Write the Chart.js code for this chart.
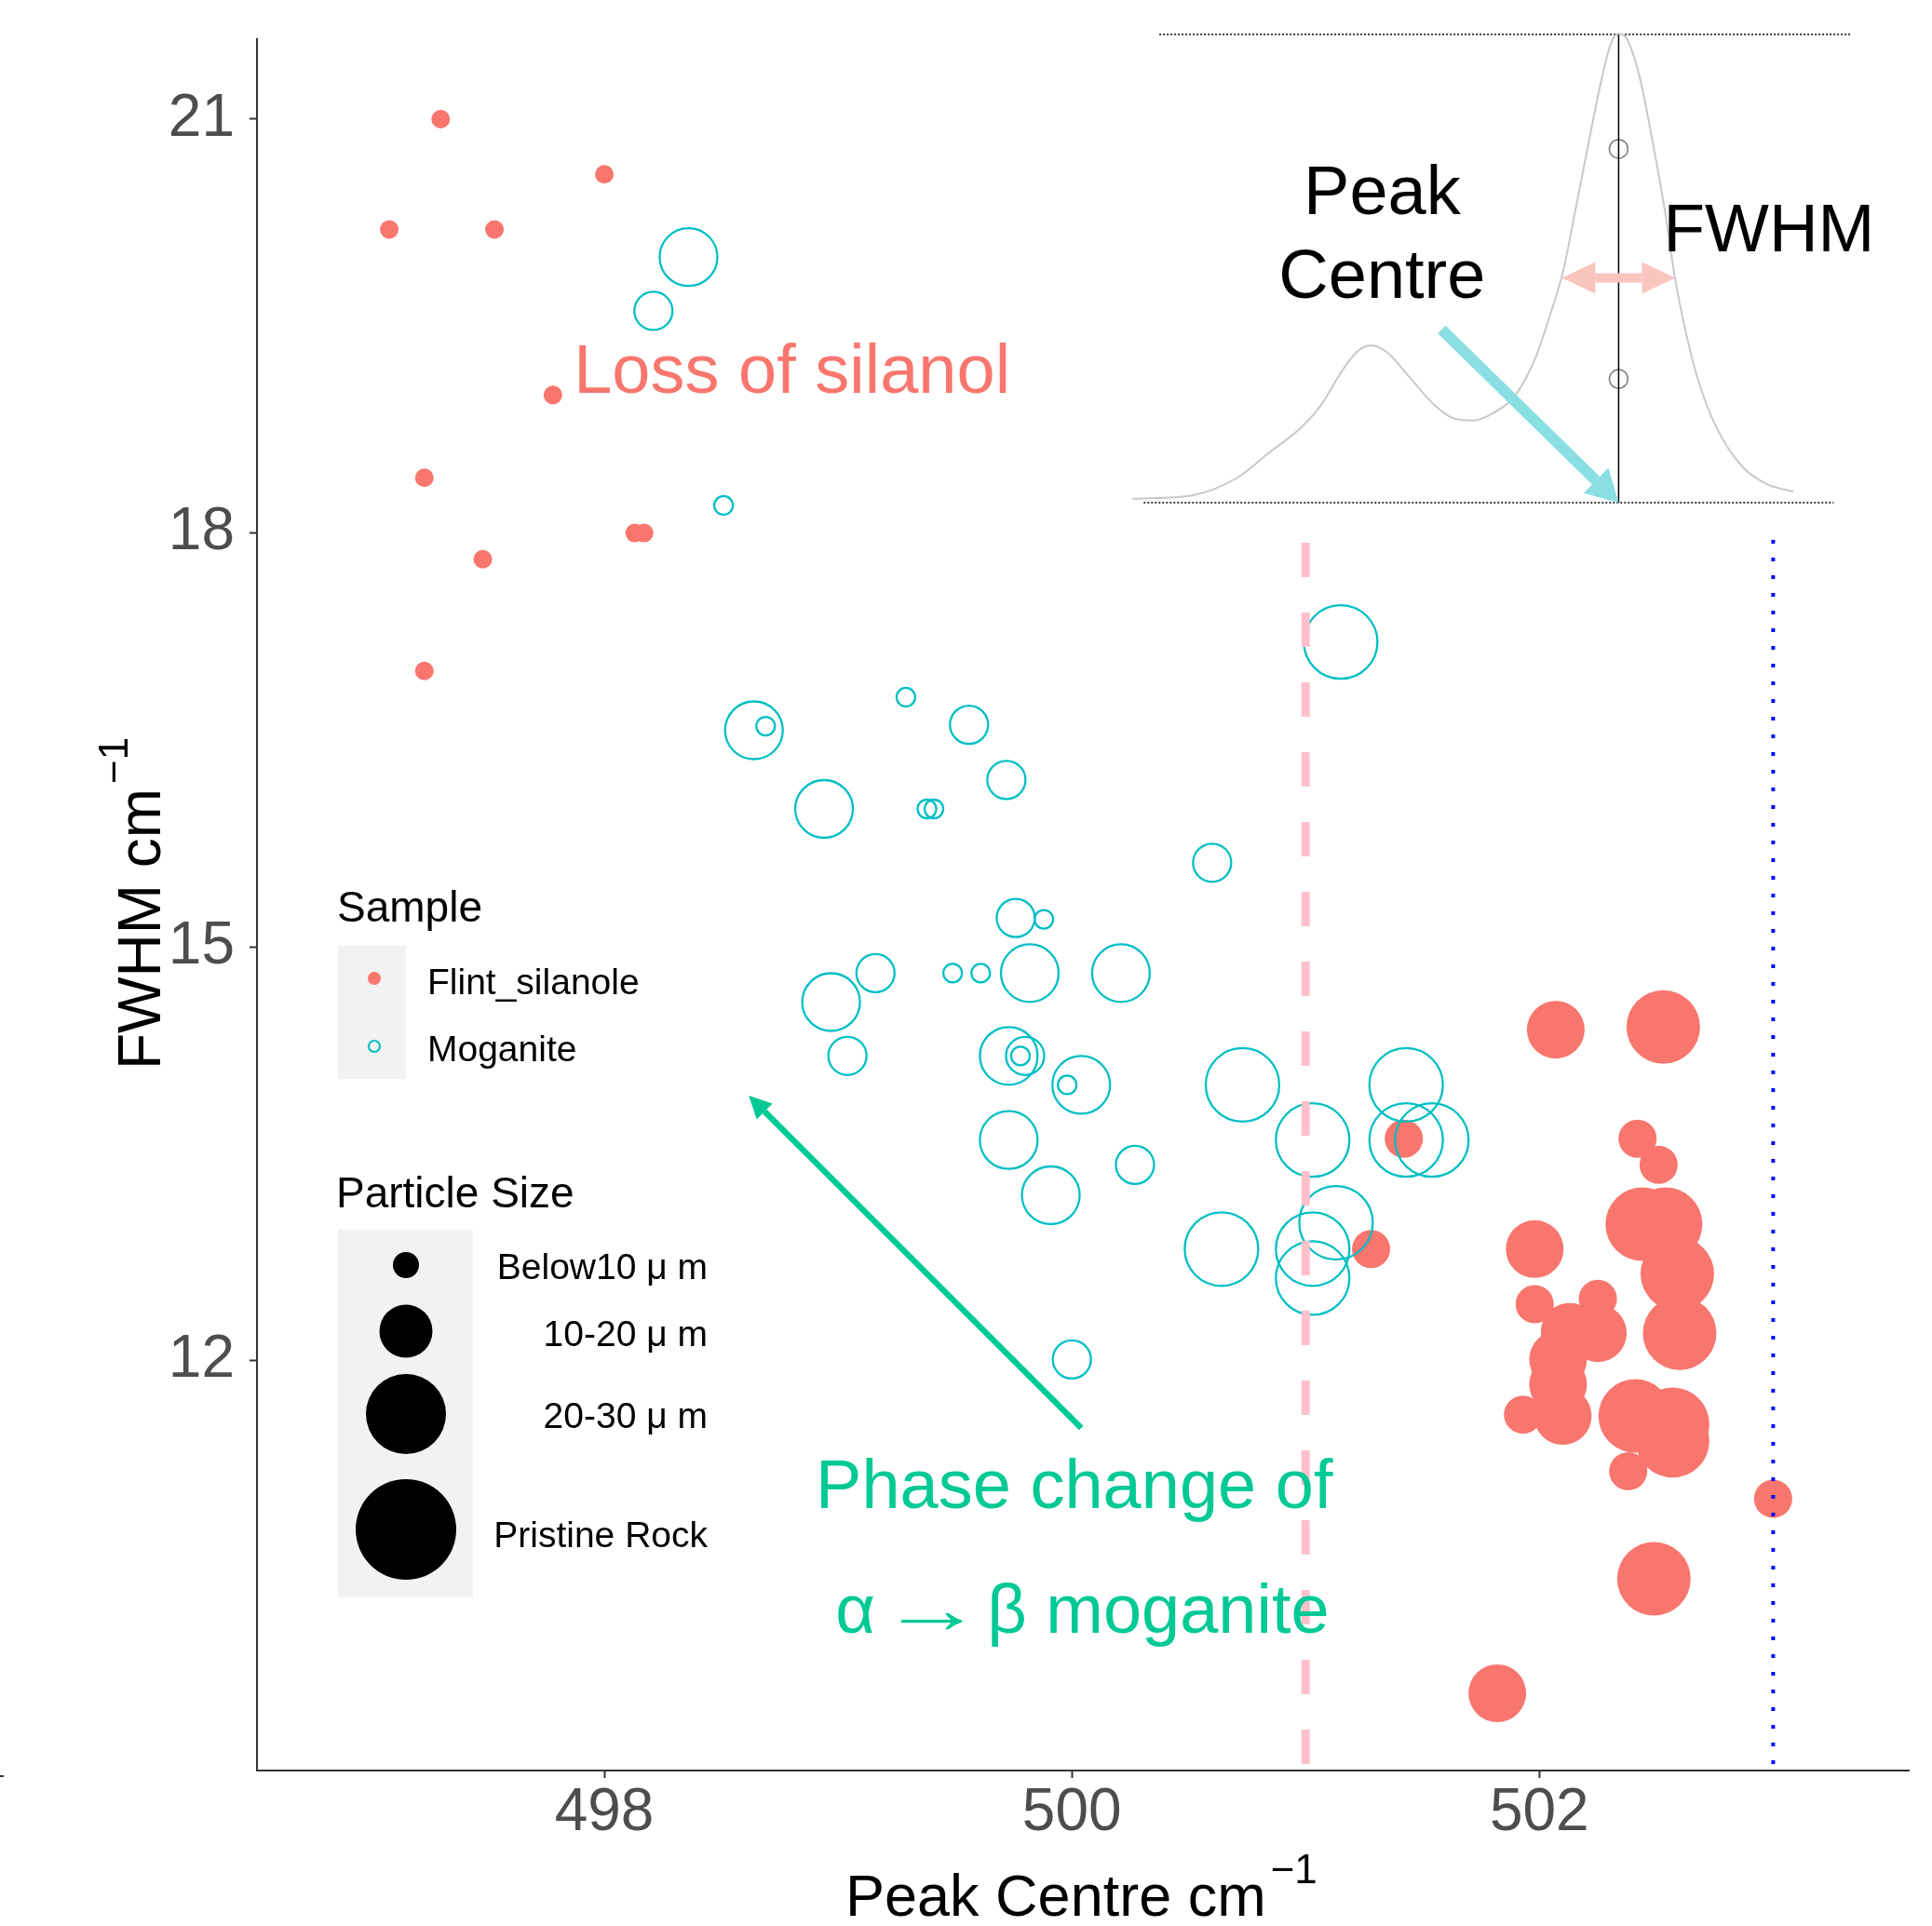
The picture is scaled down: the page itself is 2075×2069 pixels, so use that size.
<!DOCTYPE html>
<html><head><meta charset="utf-8">
<script src="https://cdn.jsdelivr.net/npm/chart.js@4.4.1/dist/chart.umd.min.js"></script>
<style>html,body{margin:0;padding:0;background:#fff;}canvas{display:block;}</style>
</head><body>
<canvas id="c" width="2075" height="2069"></canvas>
<script>
// ---------- data ----------
const xTicks = [498, 500, 502];
const yTicks = [12, 15, 18, 21];
const sampleNames = ['Flint_silanole', 'Moganite'];
const sizeNames = ['Below10 μ m', '10-20 μ m', '20-30 μ m', 'Pristine Rock'];

const flintX = [497.30, 498.00, 497.08, 497.53, 497.78, 497.23, 497.48, 498.13, 498.17, 497.23,
  501.42, 501.28, 502.07, 502.53, 502.42, 502.51, 502.44, 502.54, 502.59, 502.60,
  501.98, 501.98, 502.25, 502.25, 502.13, 502.08, 502.08, 502.10, 501.93, 502.41,
  502.57, 502.57, 502.38, 503.00, 502.49, 501.82];
const flintY = [21.00, 20.60, 20.20, 20.20, 19.00, 18.40, 17.81, 18.00, 18.00, 17.00,
  13.61, 12.81, 14.40, 14.42, 13.61, 13.42, 12.99, 12.99, 12.63, 12.20,
  12.81, 12.41, 12.45, 12.20, 12.21, 12.01, 11.83, 11.60, 11.61, 11.60,
  11.54, 11.42, 11.20, 11.00, 10.42, 9.59];
const flintSize = [1,1,1,1,1,1,1,1,1,1, 2,2,3,4,2,2,4,4,4,4, 3,2,2,3,3,3,3,3,2,4, 4,4,2,2,4,3];

const mogX = [498.36, 498.21, 498.51, 498.64, 498.69, 499.29, 498.94, 499.38, 499.41, 499.56,
  499.72, 500.60, 499.76, 499.88, 499.16, 498.97, 499.04, 499.49, 499.61, 499.82,
  500.21, 499.73, 499.80, 499.78, 500.04, 499.98, 499.73, 500.27, 499.91, 500.00,
  501.15, 500.73, 501.03, 501.43, 501.43, 501.54, 501.13, 501.03, 501.03, 500.64];
const mogY = [20.00, 19.61, 18.20, 16.57, 16.60, 16.81, 16.00, 16.00, 16.00, 16.61,
  16.21, 15.61, 15.21, 15.20, 14.81, 14.60, 14.21, 14.81, 14.81, 14.81,
  14.81, 14.21, 14.21, 14.21, 14.00, 14.00, 13.60, 13.42, 13.20, 12.01,
  17.21, 14.00, 13.60, 14.00, 13.60, 13.60, 13.00, 12.81, 12.60, 12.81];
const mogSize = [3,2,1,3,1,1,3,1,1,2, 2,2,2,1,2,3,2,1,1,3, 3,3,2,1,3,1,3,2,3,2, 4,4,4,4,4,4,4,4,4,4];

// inset schematic spectrum (read in axis units)
const insetX = [500.259, 500.518, 500.709, 500.845, 500.982, 501.064, 501.147, 501.215, 501.278, 501.351,
  501.446, 501.556, 501.637, 501.720, 501.801, 501.896, 501.980, 502.048, 502.102, 502.157,
  502.211, 502.267, 502.307, 502.338, 502.375, 502.430, 502.485, 502.539, 502.580, 502.622,
  502.676, 502.757, 502.867, 502.976, 503.086];
const insetY = [18.248, 18.274, 18.402, 18.584, 18.767, 18.922, 19.151, 19.306, 19.360, 19.306,
  19.126, 18.920, 18.829, 18.816, 18.868, 18.997, 19.256, 19.591, 19.901, 20.366,
  20.831, 21.297, 21.553, 21.618, 21.580, 21.297, 20.831, 20.314, 19.850, 19.489,
  19.126, 18.767, 18.483, 18.352, 18.301];
const insetTopLineX = [500.374, 503.331];
const insetTopLineY = [21.614, 21.614];
const insetBaseLineX = [500.307, 503.259];
const insetBaseLineY = [18.22, 18.22];
const insetCentreX = [502.339, 502.339];
const insetCentreY = [21.614, 18.22];
const insetMarkX = [502.339, 502.339];
const insetMarkY = [20.784, 19.117];

const refLineDashedX = [501, 501];
const refLineDashedY = [17.93, 9.03];
const refLineDottedX = [503, 503];
const refLineDottedY = [17.95, 9.03];

// ---------- style ----------
const FF = '"Liberation Sans", Arial, Helvetica, sans-serif';
const RED = '#F8766D', CYAN = '#00BFC4', GREEN = '#00C996';
const radii = [10, 20.5, 31, 39.5];
const pts = (xs, ys) => xs.map((x, i) => ({x: x, y: ys[i]}));

Chart.defaults.font.family = FF;

const notes = [
  {text: 'Loss of silanol', x: 497.869, y: 19.016, align: 'left', color: RED, size: 74},
  {text: 'Peak', x: 501.327, y: 20.314, align: 'center', color: '#000', size: 74},
  {text: 'Centre', x: 501.327, y: 19.707, align: 'center', color: '#000', size: 74},
  {text: 'FWHM', x: 502.530, y: 20.043, align: 'left', color: '#000', size: 73},
  {text: 'Phase change of', x: 498.904, y: 10.933, align: 'left', color: GREEN, size: 74}
];
// second green line, drawn in pieces so the arrow has the reference's length
const phaseLine = {parts: ['α', '→', 'β moganite'], offsets: [0, 48, 163], stretch: [1, 1.5, 1],
  x: 498.988, y: 10.028, color: GREEN, size: 74};

const arrows = [
  {x1: 501.582, y1: 19.475, x2: 502.339, y2: 18.22, w: 12, hl: 34, hw: 19, color: '#8ADFE3', both: false},
  {x1: 500.040, y1: 11.513, x2: 498.618, y2: 13.922, w: 6.5, hl: 24, hw: 12, color: GREEN, both: false},
  {x1: 502.096, y1: 19.85, x2: 502.582, y2: 19.85, w: 10, hl: 36, hw: 17, color: '#FBC5BF', both: true}
];

function drawArrow(ctx, x1, y1, x2, y2, w, hl, hw, color, both) {
  const dx = x2 - x1, dy = y2 - y1, L = Math.hypot(dx, dy);
  const ux = dx / L, uy = dy / L, nx = -uy, ny = ux;
  ctx.fillStyle = color;
  const s = both ? hl : 0;
  const sx = x1 + ux * s, sy = y1 + uy * s, ex = x2 - ux * hl, ey = y2 - uy * hl;
  ctx.beginPath();
  ctx.moveTo(sx + nx * w / 2, sy + ny * w / 2);
  ctx.lineTo(ex + nx * w / 2, ey + ny * w / 2);
  ctx.lineTo(ex - nx * w / 2, ey - ny * w / 2);
  ctx.lineTo(sx - nx * w / 2, sy - ny * w / 2);
  ctx.closePath(); ctx.fill();
  ctx.beginPath();
  ctx.moveTo(x2, y2);
  ctx.lineTo(ex + nx * hw, ey + ny * hw);
  ctx.lineTo(ex - nx * hw, ey - ny * hw);
  ctx.closePath(); ctx.fill();
  if (both) {
    ctx.beginPath();
    ctx.moveTo(x1, y1);
    ctx.lineTo(sx + nx * hw, sy + ny * hw);
    ctx.lineTo(sx - nx * hw, sy - ny * hw);
    ctx.closePath(); ctx.fill();
  }
}

const overlay = {
  id: 'overlay',
  afterDatasetsDraw(chart) {
    const ctx = chart.ctx, xs = chart.scales.x, ys = chart.scales.y;
    const X = v => xs.getPixelForValue(v), Y = v => ys.getPixelForValue(v);
    ctx.save();
    arrows.forEach(a => drawArrow(ctx, X(a.x1), Y(a.y1), X(a.x2), Y(a.y2), a.w, a.hl, a.hw, a.color, a.both));
    ctx.textBaseline = 'alphabetic';
    notes.forEach(n => {
      ctx.font = n.size + 'px ' + FF;
      ctx.fillStyle = n.color;
      ctx.textAlign = n.align;
      ctx.fillText(n.text, X(n.x), Y(n.y));
    });
    ctx.textAlign = 'left';
    ctx.font = phaseLine.size + 'px ' + FF;
    ctx.fillStyle = phaseLine.color;
    phaseLine.parts.forEach((p, i) => {
      ctx.save();
      ctx.translate(X(phaseLine.x) + phaseLine.offsets[i], Y(phaseLine.y));
      ctx.scale(phaseLine.stretch[i], 1);
      ctx.fillText(p, 0, 0);
      ctx.restore();
    });

    // ---- legend: Sample ----
    ctx.textAlign = 'left';
    ctx.fillStyle = '#000';
    ctx.font = '46px ' + FF;
    ctx.fillText('Sample', 362, 990);
    ctx.fillStyle = '#F2F2F2';
    ctx.fillRect(363, 1016, 73, 143);
    ctx.fillStyle = RED;
    ctx.beginPath(); ctx.arc(402, 1051, 7, 0, Math.PI * 2); ctx.fill();
    ctx.strokeStyle = CYAN; ctx.lineWidth = 2.2;
    ctx.beginPath(); ctx.arc(402, 1124, 6, 0, Math.PI * 2); ctx.stroke();
    ctx.fillStyle = '#000';
    ctx.font = '39px ' + FF;
    ctx.fillText(sampleNames[0], 459, 1068);
    ctx.fillText(sampleNames[1], 459, 1140);

    // ---- legend: Particle Size ----
    ctx.font = '46px ' + FF;
    ctx.fillText('Particle Size', 361, 1297);
    ctx.fillStyle = '#F2F2F2';
    ctx.fillRect(363, 1321, 145, 395);
    const keyY = [1359, 1430, 1519, 1643], keyR = [14, 28.5, 43, 54], labY = [1374, 1446, 1534, 1662];
    ctx.fillStyle = '#000';
    keyY.forEach((yy, i) => { ctx.beginPath(); ctx.arc(436, yy, keyR[i], 0, Math.PI * 2); ctx.fill(); });
    ctx.font = '39px ' + FF;
    ctx.textAlign = 'right';
    sizeNames.forEach((s, i) => ctx.fillText(s, 760, labY[i]));

    // ---- axis titles ----
    ctx.textAlign = 'left';
    ctx.fillStyle = '#000';
    ctx.font = '63px ' + FF;
    const xt = 'Peak Centre cm';
    ctx.fillText(xt, 908, 2058);
    const xw = ctx.measureText(xt).width;
    ctx.font = '44px ' + FF;
    ctx.fillText('−1', 908 + xw + 5, 2023);

    ctx.save();
    ctx.translate(172, 1149);
    ctx.rotate(-Math.PI / 2);
    ctx.font = '64px ' + FF;
    const yt = 'FWHM cm';
    ctx.fillText(yt, 0, 0);
    const yw = ctx.measureText(yt).width;
    ctx.font = '44px ' + FF;
    ctx.fillText('−1', yw + 5, -35);
    ctx.restore();

    // stray tick mark at the left edge
    ctx.strokeStyle = '#333'; ctx.lineWidth = 2;
    ctx.beginPath(); ctx.moveTo(0, 1908); ctx.lineTo(4, 1908); ctx.stroke();
    ctx.restore();
  }
};

const lineDs = (xs, ys, opts) => Object.assign({
  data: pts(xs, ys), showLine: true, pointRadius: 0, pointHoverRadius: 0,
  borderWidth: 1.5, borderColor: '#000', fill: false, clip: false, order: 0
}, opts);

const chart = new Chart(document.getElementById('c'), {
  type: 'scatter',
  data: {
    datasets: [
      lineDs(refLineDashedX, refLineDashedY, {borderColor: '#FFC0CB', borderWidth: 9, borderDash: [37, 38]}),
      lineDs(refLineDottedX, refLineDottedY, {borderColor: '#0000FF', borderWidth: 4, borderDash: [4, 15]}),
      lineDs(insetX, insetY, {borderColor: '#C8C8C8', borderWidth: 2, cubicInterpolationMode: 'monotone'}),
      lineDs(insetTopLineX, insetTopLineY, {borderColor: '#000', borderWidth: 1.5, borderDash: [2, 2]}),
      lineDs(insetBaseLineX, insetBaseLineY, {borderColor: '#000', borderWidth: 1.5, borderDash: [2, 2]}),
      lineDs(insetCentreX, insetCentreY, {borderColor: '#000', borderWidth: 1.5}),
      {
        data: pts(insetMarkX, insetMarkY), pointRadius: 10, pointHoverRadius: 10,
        pointBackgroundColor: 'rgba(0,0,0,0)', pointBorderColor: '#7F7F7F', pointBorderWidth: 1.5,
        clip: false, order: 0
      },
      {
        label: sampleNames[1], data: pts(mogX, mogY), order: 1,
        pointRadius: c => radii[mogSize[c.dataIndex] - 1],
        pointHoverRadius: c => radii[mogSize[c.dataIndex] - 1],
        pointBackgroundColor: 'rgba(0,0,0,0)', pointBorderColor: CYAN, pointBorderWidth: 2.3,
        pointHoverBorderWidth: 2.3
      },
      {
        label: sampleNames[0], data: pts(flintX, flintY), order: 2,
        pointRadius: c => radii[flintSize[c.dataIndex] - 1],
        pointHoverRadius: c => radii[flintSize[c.dataIndex] - 1],
        pointBackgroundColor: RED, pointBorderColor: RED, pointBorderWidth: 0,
        pointHoverBorderWidth: 0
      }
    ]
  },
  options: {
    responsive: false,
    animation: false,
    devicePixelRatio: 1,
    events: [],
    layout: {autoPadding: false, padding: {left: 0, top: 42, right: 25, bottom: 0}},
    plugins: {legend: {display: false}, tooltip: {enabled: false}},
    scales: {
      x: {
        type: 'linear', min: 496.514, max: 503.58,
        afterBuildTicks: s => { s.ticks = xTicks.map(v => ({value: v})); },
        afterFit: s => { s.height = 167; s.paddingLeft = 0; s.paddingRight = 0; s.paddingTop = 0; s.paddingBottom = 0; },
        ticks: {color: '#4D4D4D', font: {size: 64, family: FF}, padding: 0, maxRotation: 0, autoSkip: false},
        grid: {display: true, drawOnChartArea: false, drawTicks: true, tickLength: 8, tickColor: '#333', tickWidth: 2},
        border: {display: true, color: '#333', width: 2}
      },
      y: {
        type: 'linear', min: 9.03, max: 21.58,
        afterBuildTicks: s => { s.ticks = yTicks.map(v => ({value: v})); },
        afterFit: s => { s.width = 276; s.paddingLeft = 0; s.paddingRight = 0; s.paddingTop = 0; s.paddingBottom = 0; },
        ticks: {color: '#4D4D4D', font: {size: 64, family: FF}, padding: 16, autoSkip: false},
        grid: {display: true, drawOnChartArea: false, drawTicks: true, tickLength: 8, tickColor: '#333', tickWidth: 2},
        border: {display: true, color: '#333', width: 2}
      }
    }
  },
  plugins: [overlay]
});
</script>
</body></html>
